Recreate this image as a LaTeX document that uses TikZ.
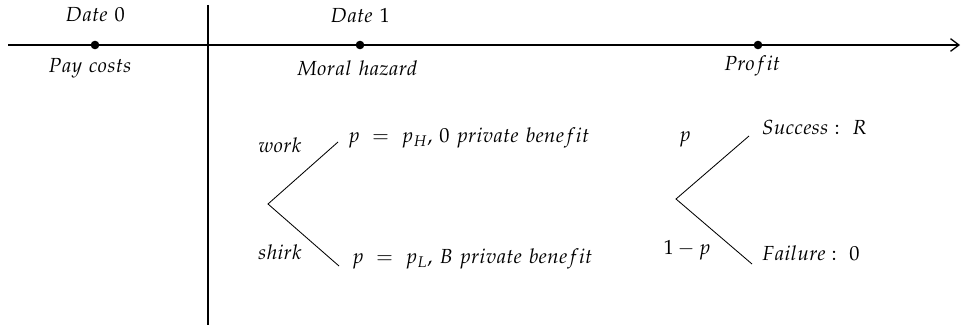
\documentclass[tikz,border=0pt]{standalone}
\usepackage{amsmath,amssymb}
\usepackage{mathpazo}
\usepackage{tikz}
\usetikzlibrary {arrows.meta}

\begin{document}
\begin{tikzpicture}[x=0.025cm,y=-0.025cm,font=\fontsize{14.5pt}{17pt}\selectfont]
\useasboundingbox (0,0) rectangle (965,327);

\draw[->,>={Straight Barb[length=6pt,width=9pt]},line width=0.9pt] (8,45)--(960,45); %時間軸
\draw[line width=0.8pt] (208,5)--(208,325); %区切り

\fill (95,45) circle (4.3);
\fill (360,45) circle (4.3);
\fill (758,45) circle (4.3);
\node (d0) at (95,15) {$Date\ 0$};
\node (d1) at (360,15) {$Date\ 1$};
\node (pay) at (90,68) {$Pay\ costs$};
\node (moral) at (357,68) {$Moral\ hazard$};
\node (profit) at (752,66) {$Profit$};

% 努力の選択
\coordinate (m) at (268,204);
\coordinate (mw) at (338,142);
\coordinate (ms) at (339,266);
\draw[semithick] (mw)--(m)--(ms);
\node (work) at (280,145) {$work$};
\node (shirk) at (280,252) {$shirk$};
\node[right] (pH) at (343,138) {$p\ =\ p_H,\,0\ private\ benefit$};
\node[right] (pL) at (347,259) {$p\ =\ p_L,\,B\ private\ benefit$};

% 成否
\coordinate (r) at (676,199);
\coordinate (rs) at (749,136);
\coordinate (rf) at (752,264);
\draw[semithick] (rs)--(r)--(rf);
\node (pp) at (685,139) {$p$};
\node (qq) at (687,250) {$1-p$};
\node[right] (succ) at (757,128) {$Success:\ R$};
\node[right] (fail) at (757,253) {$Failure:\ 0$};

\end{tikzpicture}
\end{document}
